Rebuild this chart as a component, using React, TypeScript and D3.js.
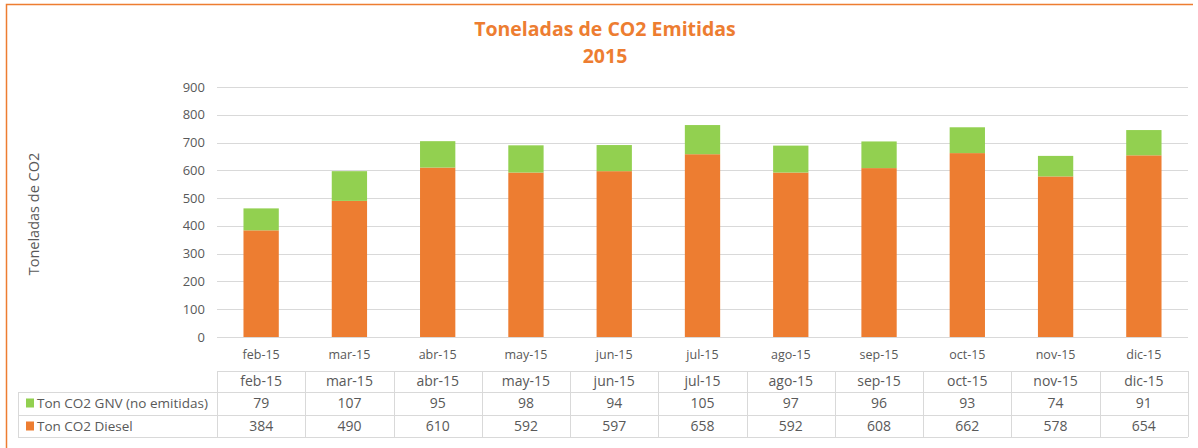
import React from "react";
import * as d3 from "d3";

const categories = ["feb-15", "mar-15", "abr-15", "may-15", "jun-15", "jul-15", "ago-15", "sep-15", "oct-15", "nov-15", "dic-15"];
const gnvValues = [79, 107, 95, 98, 94, 105, 97, 96, 93, 74, 91];
const dieselValues = [384, 490, 610, 592, 597, 658, 592, 608, 662, 578, 654];
const yTicks = [0, 100, 200, 300, 400, 500, 600, 700, 800, 900];
const seriesNames = ["Ton CO2 GNV (no emitidas)", "Ton CO2 Diesel"];
const titleLines = ["Toneladas de CO2 Emitidas", "2015"];
const yAxisTitle = "Toneladas de CO2";

const W = 1198;
const H = 448;
const ORANGE = "#ED7D31";
const GREEN = "#92D050";
const TEXT = "#595959";
const GRID = "#D9D9D9";
const FONT = "'Open Sans', 'Noto Sans', sans-serif";

export default function App() {
  const plotLeft = 217;
  const plotRight = 1188;
  const x = d3.scaleBand<string>().domain(categories).range([plotLeft, plotRight]).paddingInner(0.6).paddingOuter(0.3);
  const y = d3.scaleLinear().domain([0, 900]).range([337, 87]);
  const colBand = d3.scaleBand<string>().domain(categories).range([plotLeft, plotRight]);

  const stackData = categories.map((c, i) => ({ cat: c, diesel: dieselValues[i], gnv: gnvValues[i] }));
  const stack = d3.stack<any>().keys(["diesel", "gnv"])(stackData);
  const colors: Record<string, string> = { diesel: ORANGE, gnv: GREEN };

  const rowLines = [371, 392, 415, 437];
  const rowText = [381, 403, 426];
  const rows = [
    { name: seriesNames[0], values: gnvValues, color: GREEN },
    { name: seriesNames[1], values: dieselValues, color: ORANGE },
  ];

  return (
    <svg width={W} height={H} style={{ position: "absolute", left: 0, top: 0, background: "#fff" }} fontFamily={FONT}>
      <rect x={0} y={0} width={W} height={H} fill="#fff" />
      <path d={`M6.5,${H} V4.5 H1193`} fill="none" stroke={ORANGE} strokeWidth={1.5} />
      {titleLines.map((t, i) => (
        <text key={i} x={605} y={36 + i * 27} textAnchor="middle" fill={ORANGE} fontWeight="bold" fontSize={19.5}>
          {t}
        </text>
      ))}
      <text transform={`translate(39,${214}) rotate(-90)`} textAnchor="middle" fill={TEXT} fontSize={14.5}>
        {yAxisTitle}
      </text>
      {yTicks.map((t) => (
        <g key={t}>
          <line x1={plotLeft} x2={plotRight} y1={Math.round(y(t)) + 0.5} y2={Math.round(y(t)) + 0.5} stroke={GRID} strokeWidth={1} />
          <text x={205} y={y(t)} dy="0.35em" textAnchor="end" fill={TEXT} fontSize={13}>
            {t}
          </text>
        </g>
      ))}
      {stack.map((s) => (
        <g key={s.key} fill={colors[s.key]}>
          {s.map((d: any) => (
            <rect key={d.data.cat} x={x(d.data.cat)} width={x.bandwidth()} y={y(d[1])} height={y(d[0]) - y(d[1])} />
          ))}
        </g>
      ))}
      {categories.map((c) => (
        <text key={c} x={(colBand(c) as number) + colBand.bandwidth() / 2} y={355} dy="0.35em" textAnchor="middle" fill={TEXT} fontSize={12.5}>
          {c}
        </text>
      ))}
      {/* data table */}
      <g stroke={GRID} strokeWidth={1} fill="none">
        <line x1={plotLeft} x2={plotRight} y1={rowLines[0] + 0.5} y2={rowLines[0] + 0.5} />
        {rowLines.slice(1).map((ly) => (
          <line key={ly} x1={18} x2={plotRight} y1={ly + 0.5} y2={ly + 0.5} />
        ))}
        <line x1={18.5} x2={18.5} y1={rowLines[1]} y2={rowLines[3]} />
        {categories.map((c) => (
          <line key={c} x1={Math.round(colBand(c) as number) + 0.5} x2={Math.round(colBand(c) as number) + 0.5} y1={rowLines[0]} y2={rowLines[3]} />
        ))}
        <line x1={plotRight + 0.5} x2={plotRight + 0.5} y1={rowLines[0]} y2={rowLines[3]} />
      </g>
      {categories.map((c) => (
        <text key={c} x={(colBand(c) as number) + colBand.bandwidth() / 2} y={rowText[0]} dy="0.35em" textAnchor="middle" fill={TEXT} fontSize={14}>
          {c}
        </text>
      ))}
      {rows.map((r, ri) => (
        <g key={r.name}>
          <rect x={26} y={rowText[ri + 1] - 4.5} width={8} height={9} fill={r.color} />
          <text x={37} y={rowText[ri + 1]} dy="0.35em" fill={TEXT} fontSize={13.5}>
            {r.name}
          </text>
          {r.values.map((v, i) => (
            <text key={i} x={(colBand(categories[i]) as number) + colBand.bandwidth() / 2} y={rowText[ri + 1]} dy="0.35em" textAnchor="middle" fill={TEXT} fontSize={14}>
              {v}
            </text>
          ))}
        </g>
      ))}
    </svg>
  );
}
